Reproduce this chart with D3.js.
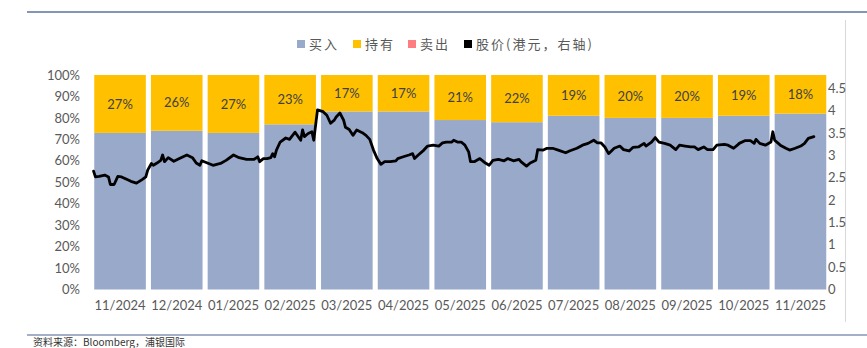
<!DOCTYPE html>
<html><head><meta charset="utf-8">
<script src="https://cdn.jsdelivr.net/npm/d3@7"></script>
<style>
body{margin:0;background:#fff;}
svg text{font-family:Lato,"Noto Sans CJK SC",sans-serif;}
</style></head>
<body><svg id="c" width="867" height="348"></svg>
<script>
const months = ["11/2024","12/2024","01/2025","02/2025","03/2025","04/2025","05/2025","06/2025","07/2025","08/2025","09/2025","10/2025","11/2025"];
const holdPct = [27,26,27,23,17,17,21,22,19,20,20,19,18];
const sellPct = [0,0,0,0,0,0,0,0,0,0,0,0,0];
const buyPct = [73,74,73,77,83,83,79,78,81,80,80,81,82];
const leftTicks = [0,10,20,30,40,50,60,70,80,90,100];
const rightTicks = [0,0.5,1,1.5,2,2.5,3,3.5,4,4.5];
const legendLabels = ["买入","持有","卖出","股价(港元，右轴)"];
const priceDates = ["2024-11-02","2024-11-03","2024-11-05","2024-11-08","2024-11-10","2024-11-11","2024-11-13","2024-11-15","2024-11-17","2024-11-20","2024-11-22","2024-11-25","2024-11-28","2024-11-30",
"2024-12-01","2024-12-03","2024-12-04","2024-12-06","2024-12-08","2024-12-09","2024-12-10","2024-12-12","2024-12-15","2024-12-18","2024-12-22","2024-12-25","2024-12-27","2024-12-29","2024-12-30",
"2025-01-02","2025-01-05","2025-01-09","2025-01-12","2025-01-16","2025-01-19","2025-01-23","2025-01-27","2025-01-29","2025-01-30",
"2025-02-01","2025-02-03","2025-02-05","2025-02-06","2025-02-07","2025-02-08","2025-02-10","2025-02-13","2025-02-15","2025-02-18","2025-02-21","2025-02-22","2025-02-23","2025-02-25","2025-02-27","2025-02-28",
"2025-03-01","2025-03-02","2025-03-05","2025-03-07","2025-03-09","2025-03-11","2025-03-12","2025-03-14","2025-03-16","2025-03-17","2025-03-19","2025-03-21","2025-03-23","2025-03-26","2025-03-28","2025-03-30",
"2025-04-01","2025-04-03","2025-04-05","2025-04-07","2025-04-10","2025-04-13","2025-04-14","2025-04-17","2025-04-20","2025-04-22","2025-04-23","2025-04-25","2025-04-28","2025-04-30",
"2025-05-03","2025-05-06","2025-05-08","2025-05-10","2025-05-13","2025-05-14","2025-05-16","2025-05-18","2025-05-20","2025-05-22","2025-05-23","2025-05-25","2025-05-28","2025-05-31",
"2025-06-02","2025-06-04","2025-06-07","2025-06-10","2025-06-12","2025-06-15","2025-06-18","2025-06-19","2025-06-22","2025-06-24","2025-06-27","2025-06-28",
"2025-07-01","2025-07-03","2025-07-06","2025-07-09","2025-07-13","2025-07-15","2025-07-19","2025-07-22","2025-07-25","2025-07-28","2025-07-30",
"2025-08-01","2025-08-03","2025-08-05","2025-08-08","2025-08-11","2025-08-13","2025-08-16","2025-08-18","2025-08-21","2025-08-24","2025-08-25","2025-08-28","2025-08-30",
"2025-09-01","2025-09-04","2025-09-07","2025-09-10","2025-09-12","2025-09-15","2025-09-18","2025-09-20","2025-09-22","2025-09-25","2025-09-27","2025-09-30",
"2025-10-02","2025-10-06","2025-10-08","2025-10-11","2025-10-13","2025-10-14","2025-10-17","2025-10-20","2025-10-22","2025-10-23","2025-10-25","2025-10-28","2025-10-31",
"2025-11-01","2025-11-02","2025-11-05","2025-11-08","2025-11-10","2025-11-13","2025-11-16","2025-11-18","2025-11-20","2025-11-23"];
const prices = [2.65,2.52,2.53,2.56,2.52,2.35,2.35,2.53,2.52,2.46,2.42,2.38,2.46,2.52,
2.67,2.82,2.78,2.83,2.89,3.01,2.86,2.95,2.87,2.93,3.01,2.95,2.83,2.78,2.88,
2.83,2.78,2.82,2.89,3.01,2.95,2.91,2.91,2.97,2.86,
2.93,2.93,2.95,3.04,2.97,3.12,3.30,3.39,3.36,3.52,3.34,3.57,3.42,3.49,3.53,3.34,
3.68,4.02,3.98,3.90,3.72,3.79,3.86,3.95,3.79,3.63,3.58,3.45,3.57,3.51,3.45,3.36,
3.12,2.93,2.80,2.86,2.86,2.88,2.93,2.97,3.01,3.04,2.93,3.01,3.12,3.21,
3.23,3.21,3.28,3.30,3.30,3.34,3.30,3.30,3.23,3.08,2.86,2.86,2.93,2.83,
2.78,2.89,2.91,2.88,2.93,2.88,2.91,2.86,2.76,2.83,2.89,3.13,
3.12,3.16,3.16,3.12,3.06,3.10,3.16,3.23,3.27,3.34,3.28,
3.28,3.19,3.04,3.16,3.21,3.13,3.10,3.18,3.19,3.27,3.21,3.30,3.40,
3.30,3.27,3.23,3.13,3.23,3.21,3.19,3.19,3.13,3.19,3.13,3.13,
3.23,3.25,3.23,3.16,3.23,3.27,3.33,3.33,3.27,3.36,3.27,3.23,3.30,
3.53,3.34,3.23,3.16,3.12,3.16,3.21,3.27,3.38,3.42];

const svg = d3.select("#c");
const textCol = "#595959";
const colBuy = "#98A9CA", colHold = "#FFC000", colSell = "#FF7C80";

// frame lines
svg.append("line").attr("x1",27).attr("x2",867).attr("y1",12).attr("y2",12).attr("stroke","#8496B4").attr("stroke-width",2);
svg.append("line").attr("x1",845.5).attr("x2",845.5).attr("y1",20).attr("y2",322).attr("stroke","#D9D9D9").attr("stroke-width",1);
svg.append("line").attr("x1",27).attr("x2",867).attr("y1",335).attr("y2",335).attr("stroke","#8496B4").attr("stroke-width",1.5);
svg.append("text").attr("x",33).attr("y",346).attr("font-size",10).attr("fill","#333")
  .style("font-family","'Noto Sans CJK SC',sans-serif").text("资料来源：Bloomberg，浦银国际");

const x = d3.scaleBand().domain(months).range([91.7,828.8]).paddingInner(0.09).paddingOuter(0.045);
const y = d3.scaleLinear().domain([0,100]).range([289.5,75]);
const y2 = d3.scaleLinear().domain([0,4.8]).range([289.5,75]);
const xt = d3.scaleTime().domain([new Date(2024,10,1), new Date(2025,11,1)]).range([91.7,828.8]);

const data = months.map((m,i)=>({m, buy:buyPct[i], hold:holdPct[i], sell:sellPct[i]}));
const stack = d3.stack().keys(["buy","sell","hold"])(data);
const colors = {buy:colBuy, hold:colHold, sell:colSell};
svg.append("g").selectAll("g").data(stack).join("g").attr("fill",d=>colors[d.key])
  .selectAll("rect").data(d=>d).join("rect")
  .attr("x",d=>x(d.data.m)).attr("width",x.bandwidth())
  .attr("y",d=>y(d[1])).attr("height",d=>Math.max(0,y(d[0])-y(d[1])));

// hold labels
svg.append("g").selectAll("text").data(data).join("text")
  .attr("x",d=>x(d.m)+x.bandwidth()/2).attr("y",d=>y(100-d.hold/2)).attr("dy","0.35em")
  .attr("text-anchor","middle").attr("font-size",13).attr("fill","#404040")
  .text(d=>d.hold+"%");

// axes
const la = svg.append("g").attr("transform","translate(84,0)")
  .call(d3.axisLeft(y).tickValues(leftTicks).tickFormat(d=>d+"%").tickSize(0).tickPadding(4));
const ra = svg.append("g").attr("transform","translate(828,0)")
  .call(d3.axisRight(y2).tickValues(rightTicks).tickFormat(d=>String(d)).tickSize(0).tickPadding(0));
const ba = svg.append("g").attr("transform","translate(0,297)")
  .call(d3.axisBottom(x).tickSize(0).tickPadding(4));
[la,ra,ba].forEach(a=>{a.select(".domain").remove(); a.selectAll("text").attr("font-size",13).attr("fill",textCol).style("font-family","Lato,sans-serif");});

// price line
const pts = priceDates.map((d,i)=>({d:new Date(d+"T00:00:00"), p:prices[i]}));
svg.append("path").datum(pts).attr("fill","none").attr("stroke","#000").attr("stroke-width",2.8)
  .attr("stroke-linejoin","round").attr("stroke-linecap","round")
  .attr("d", d3.line().x(d=>xt(d.d)).y(d=>y2(d.p)));

// legend
const legX = [297,353,408,464];
const legCols = [colBuy,colHold,colSell,"#000"];
const lg = svg.append("g").attr("transform","translate(0,44)");
legendLabels.forEach((t,i)=>{
  lg.append("rect").attr("x",legX[i]).attr("y",-4).attr("width",8).attr("height",8).attr("fill",legCols[i]);
  lg.append("text").attr("x",legX[i]+12).attr("y",0).attr("dy","0.35em").attr("font-size",13)
    .attr("fill",textCol).attr("letter-spacing",2).style("font-family","'Noto Sans CJK SC',sans-serif").text(t);
});
</script></body></html>
